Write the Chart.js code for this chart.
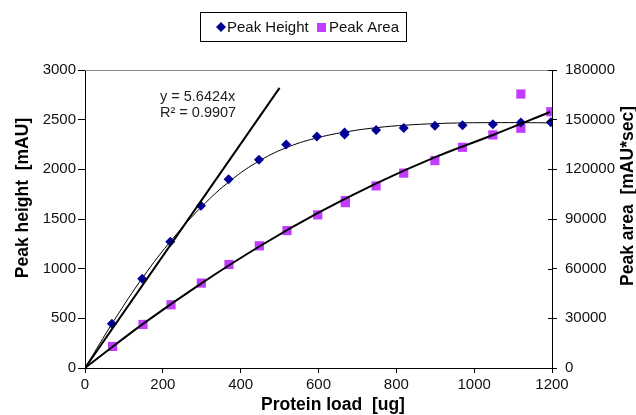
<!DOCTYPE html>
<html lang="en">
<head>
    <meta charset="UTF-8">
    <title>Peak height and area vs protein load</title>
    <script src="https://cdn.jsdelivr.net/npm/chart.js"></script>
    <style>
        body {
            margin: 0;
            background-color: white;
        }

        .chart-container {
            position: relative;
            width: 636px;
            height: 415px;
        }
    </style>
</head>
<body>
    <div class="chart-container">
        <canvas id="peakChart"></canvas>
    </div>

    <script>
        const heightLoad = [69, 147, 219, 298, 369, 447, 517, 596, 667, 667, 748, 819, 899, 970, 1048, 1120, 1197];
        const heights = [446, 898, 1271, 1633, 1900, 2096, 2250, 2330, 2370, 2350, 2397, 2417, 2438, 2445, 2455, 2471, 2475];

        const areaLoad = [71, 149, 221, 299, 370, 448, 519, 598, 669, 669, 748, 819, 899, 970, 1048, 1120, 1120, 1197];
        const areas = [13000, 26300, 38200, 51300, 62500, 73800, 83000, 92500, 99900, 101100, 110000, 117700, 125300, 133300, 140800, 144800, 165500, 154800];

        // Trend lines as drawn in the picture
        const linFitLoad = [0, 500];
        const linFitHeight = [0, 2820];

        const polyHeightLoad = [0, 75, 150, 225, 300, 375, 450, 525, 600, 675, 750, 825, 900, 975, 1050, 1125, 1200];
        const polyHeight = [0, 480, 920, 1300, 1625, 1890, 2090, 2230, 2320, 2380, 2420, 2445, 2460, 2468, 2470, 2470, 2468];

        const polyAreaLoad = [0, 150, 300, 450, 600, 750, 900, 1050, 1195];
        const polyArea = [0, 26800, 51300, 73700, 93800, 111700, 127400, 140900, 154600];

        // Axis ticks
        const xTicks = [0, 200, 400, 600, 800, 1000, 1200];
        const heightTicks = [0, 500, 1000, 1500, 2000, 2500, 3000];
        const areaTicks = [0, 30000, 60000, 90000, 120000, 150000, 180000];

        const FONT = "'Liberation Sans', Arial, sans-serif";
        const BLUE = '#000096';
        const PURPLE = '#c03cff';

        function pts(xs, ys) {
            return xs.map((x, i) => ({ x: x, y: ys[i] }));
        }

        function fixedTicks(values) {
            return (scale) => {
                scale.ticks = values.map(v => ({ value: v }));
            };
        }

        const plain = (v) => String(v);

        // Extra drawing: legend box, axis titles, equation, top border
        const decor = {
            id: 'decor',
            afterDraw(chart) {
                const ctx = chart.ctx;
                const area = chart.chartArea;
                ctx.save();

                // top border of plot area
                ctx.strokeStyle = '#8a8a8a';
                ctx.lineWidth = 1;
                ctx.beginPath();
                ctx.moveTo(area.left, area.top + 0.5);
                ctx.lineTo(area.right, area.top + 0.5);
                ctx.stroke();

                // right axis ticks cross the axis
                const y1 = chart.scales.y1;
                ctx.strokeStyle = '#000';
                areaTicks.forEach(v => {
                    const py = Math.round(y1.getPixelForValue(v)) + 0.5;
                    ctx.beginPath();
                    ctx.moveTo(area.right - 4, py);
                    ctx.lineTo(area.right, py);
                    ctx.stroke();
                });

                // legend
                ctx.strokeStyle = '#000';
                ctx.strokeRect(200.5, 12.5, 206, 29);
                ctx.fillStyle = BLUE;
                ctx.beginPath();
                ctx.moveTo(221, 22);
                ctx.lineTo(226, 27);
                ctx.lineTo(221, 32);
                ctx.lineTo(216, 27);
                ctx.closePath();
                ctx.fill();
                ctx.fillStyle = PURPLE;
                ctx.fillRect(317, 23, 9, 9);
                ctx.fillStyle = '#111';
                ctx.font = '15px ' + FONT;
                ctx.textBaseline = 'middle';
                ctx.textAlign = 'left';
                ctx.fillText(chart.data.datasets[0].label, 227, 27.5);
                ctx.fillText(chart.data.datasets[1].label, 329, 27.5);

                // trendline equation
                ctx.font = '14.5px ' + FONT;
                ctx.fillStyle = '#222';
                ctx.fillText('y = 5.6424x', 160, 97);
                ctx.fillText('R\u00b2 = 0.9907', 160, 113);

                // axis titles
                ctx.fillStyle = '#000';
                ctx.font = 'bold 17.5px ' + FONT;
                ctx.textAlign = 'center';
                ctx.fillText('Protein load  [ug]', 333, 405);

                ctx.save();
                ctx.translate(23, 198);
                ctx.rotate(-Math.PI / 2);
                ctx.fillText('Peak height  [mAU]', 0, 0);
                ctx.restore();

                ctx.save();
                ctx.translate(628, 196);
                ctx.rotate(-Math.PI / 2);
                ctx.fillText('Peak area  [mAU*sec]', 0, 0);
                ctx.restore();

                ctx.restore();
            }
        };

        const ctx = document.getElementById('peakChart').getContext('2d');
        const chart = new Chart(ctx, {
            type: 'scatter',
            data: {
                datasets: [
                    {
                        label: 'Peak Height',
                        data: pts(heightLoad, heights),
                        yAxisID: 'y',
                        pointStyle: 'rectRot',
                        pointRadius: 5,
                        pointBackgroundColor: BLUE,
                        pointBorderWidth: 0,
                        order: 2
                    },
                    {
                        label: 'Peak Area',
                        data: pts(areaLoad, areas),
                        yAxisID: 'y1',
                        pointStyle: 'rect',
                        pointRadius: 6.5,
                        pointBackgroundColor: PURPLE,
                        pointBorderWidth: 0,
                        order: 4
                    },
                    {
                        label: 'Linear fit',
                        data: pts(linFitLoad, linFitHeight),
                        yAxisID: 'y',
                        showLine: true,
                        borderColor: '#000',
                        borderWidth: 2,
                        pointRadius: 0,
                        order: 0
                    },
                    {
                        label: 'Height trend',
                        data: pts(polyHeightLoad, polyHeight),
                        yAxisID: 'y',
                        showLine: true,
                        borderColor: '#000',
                        borderWidth: 1,
                        pointRadius: 0,
                        tension: 0.4,
                        order: 3
                    },
                    {
                        label: 'Area trend',
                        data: pts(polyAreaLoad, polyArea),
                        yAxisID: 'y1',
                        showLine: true,
                        borderColor: '#000',
                        borderWidth: 2,
                        pointRadius: 0,
                        tension: 0.4,
                        order: 1
                    }
                ]
            },
            options: {
                responsive: true,
                maintainAspectRatio: false,
                animation: false,
                layout: {
                    padding: { top: 70, left: 0, right: 0, bottom: 0 }
                },
                plugins: {
                    legend: { display: false },
                    tooltip: { enabled: false }
                },
                scales: {
                    x: {
                        type: 'linear',
                        min: 0,
                        max: 1200,
                        afterBuildTicks: fixedTicks(xTicks),
                        afterFit: (s) => { s.height = 47; },
                        border: { color: '#000', width: 1 },
                        grid: { drawOnChartArea: false, color: '#000', tickLength: 5 },
                        ticks: {
                            color: '#111',
                            padding: 3,
                            maxRotation: 0,
                            callback: plain,
                            font: { family: FONT, size: 15 }
                        }
                    },
                    y: {
                        type: 'linear',
                        position: 'left',
                        min: 0,
                        max: 3000,
                        afterBuildTicks: fixedTicks(heightTicks),
                        afterFit: (s) => { s.width = 85; },
                        border: { color: '#000', width: 1 },
                        grid: { drawOnChartArea: false, color: '#000', tickLength: 7 },
                        ticks: {
                            color: '#111',
                            padding: 2,
                            callback: plain,
                            font: { family: FONT, size: 15 }
                        }
                    },
                    y1: {
                        type: 'linear',
                        position: 'right',
                        min: 0,
                        max: 180000,
                        afterBuildTicks: fixedTicks(areaTicks),
                        afterFit: (s) => { s.width = 84; },
                        border: { color: '#000', width: 1 },
                        grid: { drawOnChartArea: false, color: '#000', tickLength: 5 },
                        ticks: {
                            color: '#111',
                            padding: 8,
                            callback: plain,
                            font: { family: FONT, size: 15 }
                        }
                    }
                }
            },
            plugins: [decor]
        });
    </script>
</body>
</html>
